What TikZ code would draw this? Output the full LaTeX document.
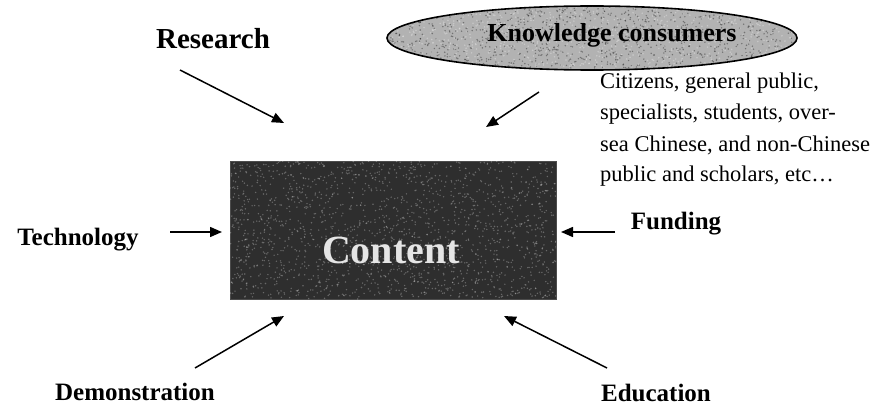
\documentclass[tikz,border=0pt]{standalone}
\usepackage{fontspec}
\setmainfont{Liberation Serif}
\usetikzlibrary{arrows.meta,shapes.geometric}
\begin{document}
\begin{tikzpicture}[x=1pt,y=-1pt,
  lbl/.style={font=\bfseries\fontsize{25}{28}\selectfont,inner sep=0pt},
  body/.style={font=\fontsize{22.5}{30}\selectfont,inner sep=0pt,anchor=base west},
  arr/.style={line width=1.5pt,-{Triangle[length=12pt,width=10pt]}},
  speckL/.style={fill=white,opacity=0.28},
  speckD/.style={fill=black,opacity=0.35}]
\useasboundingbox (0,0) rectangle (878,409);
\clip (0,0) rectangle (878,409);
% ellipse
\node[ellipse,draw=black,line width=1.6pt,fill=gray!60,minimum width=410pt,minimum height=64pt,inner sep=0pt] (kcell) at (592,38) {};
\begin{scope}
\clip (592,38) ellipse [x radius=204pt,y radius=31pt];
\pgfmathsetseed{7}
\foreach \i in {1,...,1100}{
  \pgfmathsetmacro{\px}{388+rnd*408}\pgfmathsetmacro{\py}{6+rnd*64}
  \fill[speckD] (\px,\py) circle (0.8pt);}
\foreach \i in {1,...,900}{
  \pgfmathsetmacro{\px}{388+rnd*408}\pgfmathsetmacro{\py}{6+rnd*64}
  \fill[speckL] (\px,\py) circle (0.9pt);}
\end{scope}
\node[lbl,font=\bfseries\fontsize{26}{28}\selectfont] (kc) at (612,35) {Knowledge consumers};
% content box
\node[draw=gray!60!black,line width=0.8pt,fill=black!82,minimum width=326pt,minimum height=138pt,inner sep=0pt] (box) at (393,230) {};
\begin{scope}
\clip (230,161) rectangle (556,299);
\pgfmathsetseed{3}
\foreach \i in {1,...,1800}{
  \pgfmathsetmacro{\px}{230+rnd*326}\pgfmathsetmacro{\py}{161+rnd*138}
  \fill[speckL] (\px,\py) circle (0.8pt);}
\end{scope}
\node[font=\bfseries\fontsize{40}{44}\selectfont,text=gray!20,inner sep=0pt] (content) at (391,250) {Content};
% labels
\node[lbl,font=\bfseries\fontsize{29}{32}\selectfont] (research) at (213,39) {Research};
\node[lbl] (tech) at (78,240) {Technology};
\node[lbl] (fund) at (676,224) {Funding};
\node[lbl] (demo) at (135,392) {Demonstration};
\node[lbl] (edu) at (656,393) {Education};
% consumer description
\node[body] (c1) at (600,89) {Citizens, general public,};
\node[body] (c2) at (600,120) {specialists, students, over-};
\node[body] (c3) at (600,151) {sea Chinese, and non-Chinese};
\node[body] (c4) at (600,182) {public and scholars, etc\ldots};
% arrow endpoints
\coordinate (rs) at (180,70);  \coordinate (re) at (284,123);
\coordinate (ks) at (539,92);  \coordinate (ke) at (486,127);
\coordinate (ts) at (170,232); \coordinate (te) at (222,232);
\coordinate (fs) at (615,232); \coordinate (fe) at (561,232);
\coordinate (ds) at (195,368); \coordinate (de) at (284,316);
\coordinate (es) at (607,368); \coordinate (ee) at (504,316);
\draw[arr] (rs) -- (re);
\draw[arr] (ks) -- (ke);
\draw[arr] (ts) -- (te);
\draw[arr] (fs) -- (fe);
\draw[arr] (ds) -- (de);
\draw[arr] (es) -- (ee);
\end{tikzpicture}
\end{document}
